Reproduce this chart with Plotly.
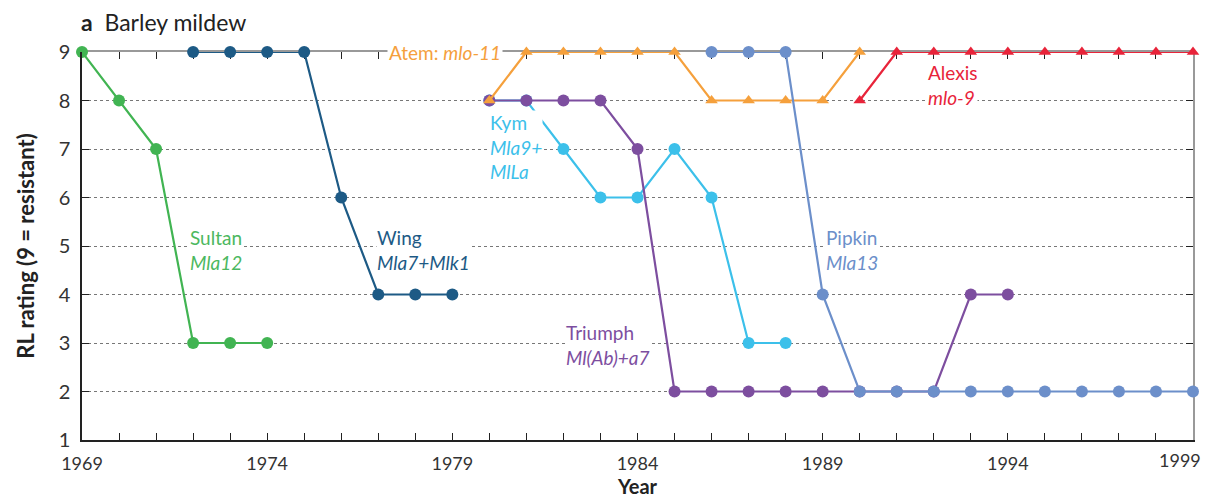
import plotly.graph_objects as go

# Data (RL rating, 9 = resistant)
sultan_years = [1969, 1970, 1971, 1972, 1973, 1974]
sultan_vals = [9, 8, 7, 3, 3, 3]

wing_years = [1972, 1973, 1974, 1975, 1976, 1977, 1978, 1979]
wing_vals = [9, 9, 9, 9, 6, 4, 4, 4]

atem_years = [1980, 1981, 1982, 1983, 1984, 1985, 1986, 1987, 1988, 1989, 1990]
atem_vals = [8, 9, 9, 9, 9, 9, 8, 8, 8, 8, 9]

kym_years = [1980, 1981, 1982, 1983, 1984, 1985, 1986, 1987, 1988]
kym_vals = [8, 8, 7, 6, 6, 7, 6, 3, 3]

triumph_years = [1980, 1981, 1982, 1983, 1984, 1985, 1986, 1987, 1988, 1989,
                 1990, 1991, 1992, 1993, 1994]
triumph_vals = [8, 8, 8, 8, 7, 2, 2, 2, 2, 2, 2, 2, 2, 4, 4]

pipkin_years = [1986, 1987, 1988, 1989, 1990, 1991, 1992, 1993, 1994, 1995,
                1996, 1997, 1998, 1999]
pipkin_vals = [9, 9, 9, 4, 2, 2, 2, 2, 2, 2, 2, 2, 2, 2]

alexis_years = [1990, 1991, 1992, 1993, 1994, 1995, 1996, 1997, 1998, 1999]
alexis_vals = [8, 9, 9, 9, 9, 9, 9, 9, 9, 9]

x_ticks = [1969, 1974, 1979, 1984, 1989, 1994, 1999]
y_ticks = [1, 2, 3, 4, 5, 6, 7, 8, 9]

GREEN = "#41b452"
WING = "#1d5a85"
ORANGE = "#f5a03c"
CYAN = "#3cc0ea"
PURPLE = "#7d4e9f"
PIPKIN = "#6c8fca"
RED = "#e8243a"

FONT = "Lato"

fig = go.Figure()

def add_series(xs, ys, color, symbol="circle"):
    fig.add_trace(go.Scatter(
        x=xs, y=ys, mode="lines+markers",
        line=dict(color=color, width=2.2),
        marker=dict(color=color, size=12 if symbol == "circle" else 11, symbol=symbol),
        cliponaxis=False, showlegend=False,
    ))

# draw order roughly as in the figure
add_series(sultan_years, sultan_vals, GREEN)
add_series(wing_years, wing_vals, WING)
add_series(kym_years, kym_vals, CYAN)
add_series(triumph_years, triumph_vals, PURPLE)
add_series(atem_years, atem_vals, ORANGE, "triangle-up")
add_series(pipkin_years, pipkin_vals, PIPKIN)
add_series(alexis_years, alexis_vals, RED, "triangle-up")

# variety labels
labels = [
    (1971.9, 4.92, "Sultan<br><i>Mla12</i>", "#4cb860"),
    (1976.95, 4.92, "Wing<br><i>Mla7+Mlk1</i>", WING),
    (1980.0, 7.04, "Kym<br><i>Mla9+</i><br><i>MlLa</i>", CYAN),
    (1982.05, 2.96, "Triumph<br><i>Ml(Ab)+a7</i>", PURPLE),
    (1989.05, 4.92, "Pipkin<br><i>Mla13</i>", PIPKIN),
    (1991.82, 8.32, "Alexis<br><i>mlo-9</i>", RED),
]
for x, y, txt, col in labels:
    fig.add_annotation(x=x, y=y, text=txt, showarrow=False, xanchor="left",
                       align="left", bgcolor="white", borderpad=0,
                       font=dict(family=FONT, size=19, color=col))

fig.add_annotation(x=1978.8, y=9, text="Atem: <i>mlo-11</i>", showarrow=False,
                   bgcolor="white", borderpad=1,
                   font=dict(family=FONT, size=19, color=ORANGE))

fig.add_annotation(x=0, y=1, xref="paper", yref="paper", yshift=15, xshift=-2,
                   xanchor="left", yanchor="bottom", showarrow=False,
                   borderpad=0, text="<b>a</b>  Barley mildew",
                   font=dict(family=FONT, size=23, color="#222222"))

# last year label kept inside the page edge
fig.add_annotation(x=x_ticks[-1], y=0, yref="paper", xanchor="right",
                   yanchor="top", xshift=9, yshift=-8, showarrow=False,
                   borderpad=0, text=str(x_ticks[-1]),
                   font=dict(family=FONT, size=18, color="#333333"))

fig.update_layout(
    width=1211, height=492,
    margin=dict(l=74, r=26, t=44, b=60),
    plot_bgcolor="white", paper_bgcolor="white",
    font=dict(family=FONT, size=18, color="#333333"),
    xaxis=dict(
        range=[1969, 1999], tickvals=x_ticks[:-1], ticks="inside", ticklen=7,
        tickcolor="#222222", showline=True, linecolor="#222222", linewidth=1.5,
        showgrid=False, zeroline=False, automargin=False,
        tickfont=dict(size=18), ticklabeloverflow="allow", ticklabelstandoff=7,
        minor=dict(dtick=1, tick0=1969, ticks="inside", ticklen=7,
                   tickcolor="#222222", showgrid=False),
        title=dict(text="<b>Year</b>", standoff=2, font=dict(size=20, color="#222222")),
    ),
    yaxis=dict(
        range=[1, 9], tickvals=y_ticks, ticks="inside", ticklen=7,
        tickcolor="#222222", showline=True, linecolor="#222222", linewidth=1.5,
        showgrid=True, gridcolor="#777777", griddash="dot", gridwidth=1,
        zeroline=False, automargin=False, tickfont=dict(size=20),
        ticklabelstandoff=6,
        title=dict(text="<b>RL rating (9 = resistant)</b>", standoff=18,
                   font=dict(size=22, color="#222222")),
    ),
    xaxis2=dict(
        overlaying="x", side="top", matches="x", range=[1969, 1999],
        showticklabels=False, showline=True, linecolor="#999999", linewidth=2,
        ticks="inside", ticklen=7, tickcolor="#222222", tickvals=x_ticks,
        minor=dict(dtick=1, tick0=1969, ticks="inside", ticklen=7,
                   tickcolor="#222222"),
        showgrid=False, zeroline=False, layer="below traces", automargin=False,
    ),
    yaxis2=dict(
        overlaying="y", side="right", range=[1, 9], tickvals=y_ticks,
        showticklabels=False, showline=True, linecolor="#999999", linewidth=2,
        ticks="inside", ticklen=7, tickcolor="#222222",
        showgrid=False, zeroline=False, layer="below traces", automargin=False,
    ),
)

# invisible trace to activate the mirror axes
fig.add_trace(go.Scatter(x=[1969], y=[1], xaxis="x2", yaxis="y2",
                         mode="markers", marker=dict(opacity=0),
                         showlegend=False, hoverinfo="skip"))

fig.write_html("out.html")
